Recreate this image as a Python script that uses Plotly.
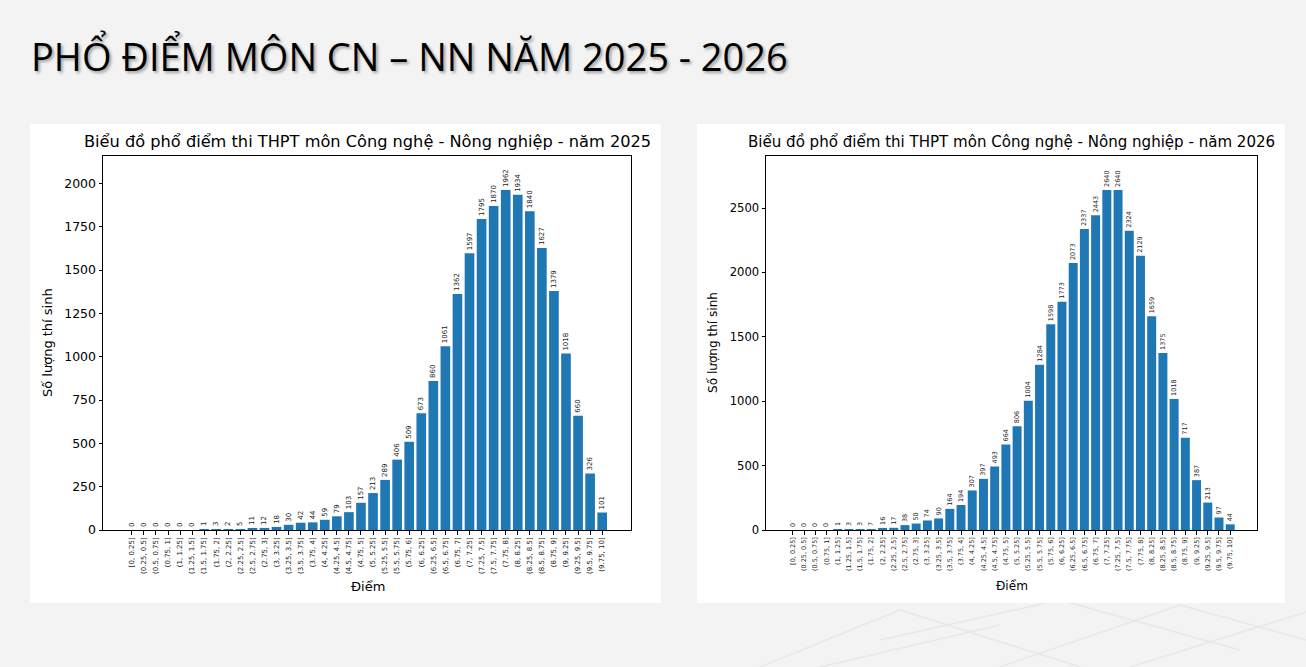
import plotly.graph_objects as go

W, H = 1306, 667
H_EFF = 660  # effective rendered height used for placing paper-relative items

score_bins = ["[0, 0.25]", "(0.25, 0.5]", "(0.5, 0.75]", "(0.75, 1]", "(1, 1.25]", "(1.25, 1.5]",
              "(1.5, 1.75]", "(1.75, 2]", "(2, 2.25]", "(2.25, 2.5]", "(2.5, 2.75]", "(2.75, 3]",
              "(3, 3.25]", "(3.25, 3.5]", "(3.5, 3.75]", "(3.75, 4]", "(4, 4.25]", "(4.25, 4.5]",
              "(4.5, 4.75]", "(4.75, 5]", "(5, 5.25]", "(5.25, 5.5]", "(5.5, 5.75]", "(5.75, 6]",
              "(6, 6.25]", "(6.25, 6.5]", "(6.5, 6.75]", "(6.75, 7]", "(7, 7.25]", "(7.25, 7.5]",
              "(7.5, 7.75]", "(7.75, 8]", "(8, 8.25]", "(8.25, 8.5]", "(8.5, 8.75]", "(8.75, 9]",
              "(9, 9.25]", "(9.25, 9.5]", "(9.5, 9.75]", "(9.75, 10]"]

counts_2025 = [0, 0, 0, 0, 0, 0, 1, 3, 2, 5,
               11, 12, 18, 30, 42, 44, 59, 79, 103, 157,
               213, 289, 406, 509, 673, 860, 1061, 1362, 1597, 1795,
               1870, 1962, 1934, 1840, 1627, 1379, 1018, 660, 326, 101]

counts_2026 = [0, 0, 0, 0, 1, 3, 3, 7, 16, 17,
               38, 50, 74, 90, 164, 194, 307, 397, 493, 664,
               806, 1004, 1284, 1598, 1773, 2073, 2337, 2443, 2640, 2640,
               2324, 2129, 1659, 1375, 1018, 717, 387, 213, 97, 44]

yticks_2025 = [0, 250, 500, 750, 1000, 1250, 1500, 1750, 2000]
yticks_2026 = [0, 500, 1000, 1500, 2000, 2500]

main_title = "PHỔ ĐIỂM MÔN CN – NN NĂM 2025 - 2026"
title_2025 = "Biểu đồ phổ điểm thi THPT môn Công nghệ - Nông nghiệp - năm 2025"
title_2026 = "Biểu đồ phổ điểm thi THPT môn Công nghệ - Nông nghiệp - năm 2026"
y_label = "Số lượng thí sinh"
x_label = "Điểm"

idx = list(range(len(score_bins)))


def px(x):
    return x / W


def py(y):
    return 1 - y / H_EFF


BAR = "#1f77b4"
FONT = "DejaVu Sans"
S_LEFT = 1.0
S_RIGHT = 0.93  # right image is scaled a little smaller in the slide

fig = go.Figure()
for vals, xa, ya, s in [(counts_2025, "x", "y", S_LEFT), (counts_2026, "x2", "y2", S_RIGHT)]:
    fig.add_trace(go.Bar(
        x=idx, y=vals, xaxis=xa, yaxis=ya, width=0.8,
        marker=dict(color=BAR, line=dict(width=0)),
        text=[str(v) for v in vals], textposition="outside", textangle=-90,
        constraintext="none", cliponaxis=False,
        textfont=dict(family=FONT, size=7 * s, color="#222222"),
        hoverinfo="x+y",
    ))

axis_common = dict(showline=True, linecolor="black", linewidth=1, mirror=True,
                   showgrid=False, zeroline=False, ticks="outside", ticklen=3.5,
                   tickcolor="black", tickwidth=1)

x_range = [-2.39, 41.39]
fig.update_layout(
    width=W, height=H, margin=dict(l=0, r=0, t=0, b=0),
    paper_bgcolor="#f3f3f3", plot_bgcolor="white", showlegend=False,
    font=dict(family=FONT, color="black"),
    xaxis=dict(domain=[px(103), px(631)], range=x_range, tickvals=idx, ticktext=score_bins,
               tickangle=-90, tickfont=dict(size=7 * S_LEFT, family=FONT, color="#222"), anchor="y",
               **axis_common),
    yaxis=dict(domain=[py(530), py(156)], range=[0, 1962 * 1.1], tickvals=yticks_2025,
               tickfont=dict(size=12.5 * S_LEFT, family=FONT), anchor="x", **axis_common),
    xaxis2=dict(domain=[px(766), px(1257)], range=x_range, tickvals=idx, ticktext=score_bins,
                tickangle=-90, tickfont=dict(size=7 * S_RIGHT, family=FONT, color="#222"), anchor="y2",
                **axis_common),
    yaxis2=dict(domain=[py(530), py(156)], range=[0, 2640 * 1.1], tickvals=yticks_2026,
                tickfont=dict(size=12.5 * S_RIGHT, family=FONT), anchor="x2", **axis_common),
)

shapes = []
# faint background pattern bottom-right
pattern = [((760, 667), (900, 610)), ((900, 610), (1080, 667)), ((1000, 667), (1180, 605)),
           ((1180, 605), (1306, 640)), ((880, 640), (1060, 600)), ((1060, 600), (1240, 650)),
           ((1130, 667), (1306, 612)), ((820, 667), (1000, 625))]
for (x0, y0), (x1, y1) in pattern:
    shapes.append(dict(type="line", xref="paper", yref="paper", x0=px(x0), y0=py(y0),
                       x1=px(x1), y1=py(y1), line=dict(color="#e7e7e7", width=1.5), layer="below"))
# white panels
for x0, x1 in [(30, 661), (697, 1285)]:
    shapes.append(dict(type="rect", xref="paper", yref="paper", x0=px(x0), x1=px(x1),
                       y0=py(603), y1=py(124), fillcolor="white", line=dict(width=0), layer="below"))
fig.update_layout(shapes=shapes)

ann = [
    dict(text=main_title, x=px(29), y=py(56), xanchor="left", yanchor="middle",
         font=dict(family="Open Sans", size=38, color="black", weight=400,
                   shadow="2px 2px 3px rgba(0,0,0,0.35)")),
    dict(text=title_2025, x=px(367.5), y=py(142), xanchor="center", yanchor="middle",
         font=dict(family=FONT, size=16.2 * S_LEFT, color="black")),
    dict(text=title_2026, x=px(1011.5), y=py(142), xanchor="center", yanchor="middle",
         font=dict(family=FONT, size=16.2 * S_RIGHT, color="black")),
    dict(text=y_label, x=px(47), y=py(343), textangle=-90, xanchor="center", yanchor="middle",
         font=dict(family=FONT, size=13 * S_LEFT, color="black")),
    dict(text=y_label, x=px(713), y=py(343), textangle=-90, xanchor="center", yanchor="middle",
         font=dict(family=FONT, size=13 * S_RIGHT, color="black")),
    dict(text=x_label, x=px(367.5), y=py(586), xanchor="center", yanchor="middle",
         font=dict(family=FONT, size=13 * S_LEFT, color="black")),
    dict(text=x_label, x=px(1011.5), y=py(586), xanchor="center", yanchor="middle",
         font=dict(family=FONT, size=13 * S_RIGHT, color="black")),
]
for a in ann:
    a.update(xref="paper", yref="paper", showarrow=False)
fig.update_layout(annotations=ann)

fig.write_html("out.html")
